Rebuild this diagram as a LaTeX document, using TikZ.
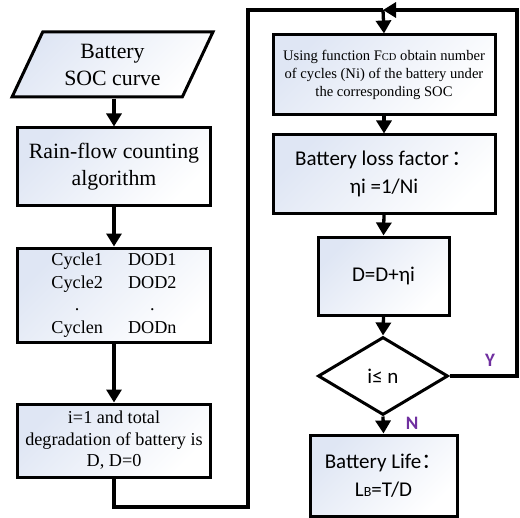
\documentclass[tikz,border=0pt]{standalone}
\usepackage{fontspec}
\setmainfont{Liberation Serif}
\newfontfamily\carl{Carlito}
\newfontfamily\cjkf{Noto Sans CJK SC}
\usetikzlibrary{shapes.geometric,arrows.meta}
\definecolor{boxtint}{HTML}{DFE6F4}
\definecolor{ypurple}{HTML}{7030A0}

\begin{document}
\begin{tikzpicture}[x=1bp,y=-1bp,
  box/.style={draw=black, line width=3bp, inner sep=0pt, align=center,
    left color=boxtint, right color=white, shading angle=45},
  serifbig/.style={font=\fontsize{21.8bp}{27bp}\selectfont},
  serifmid/.style={font=\fontsize{18.2bp}{21.5bp}\selectfont},
  serifsmall/.style={font=\fontsize{14.6bp}{18bp}\selectfont},
  sansbig/.style={font=\carl\fontsize{21bp}{28bp}\selectfont},
  flow/.style={line width=3.3bp},
  conn/.style={flow, -{Triangle[length=13bp,width=15bp]}},
  lab/.style={font=\carl\bfseries\fontsize{19bp}{20bp}\selectfont, text=ypurple}]

  \useasboundingbox (0,0) rectangle (520,518);

  % left column
  \node[box, serifbig, trapezium, trapezium left angle=63, trapezium right angle=117,
        trapezium stretches=true, minimum width=201bp, minimum height=65bp]
        (soc) at (112.5,64.5) {Battery\\SOC curve};
  \node[box, serifbig, minimum width=192bp, minimum height=77bp]
        (rf) at (114,166.5) {Rain-flow counting\\algorithm};
  \node[box, minimum width=192bp, minimum height=94bp]
        (cyc) at (114,295) {%
        \fontsize{18.2bp}{22.4bp}\selectfont
        \setlength{\tabcolsep}{12.5bp}\renewcommand{\arraystretch}{1}%
        \raisebox{-2bp}{\begin{tabular}{@{}cc@{}}
          Cycle1 & DOD1\\
          Cycle2 & DOD2\\
          . & .\\
          Cyclen & DODn
        \end{tabular}}};
  \node[box, serifmid, minimum width=192bp, minimum height=73bp]
        (init) at (114,440.5) {i=1 and total\\degradation of battery is\\D, D=0};

  % right column
  \node[box, serifsmall, minimum width=222bp, minimum height=80bp]
        (fcd) at (384,75) {Using function F{\fontsize{10.5bp}{12bp}\selectfont CD} obtain number\\of cycles (Ni) of the battery under\\the corresponding SOC};
  \node[box, sansbig, minimum width=222bp, minimum height=78bp]
        (loss) at (384,174) {Battery loss factor\hspace{3bp}{\cjkf ：}\\ ηi =1/Ni};
  \node[box, sansbig, minimum width=131bp, minimum height=78bp]
        (upd) at (383.5,276) {D=D+ηi};
  \node[draw=black, fill=white, line width=3bp, diamond, aspect=1.67, inner sep=0pt,
        minimum width=130bp, minimum height=78bp, sansbig]
        (dec) at (383,376) {i≤ n};
  \node[box, sansbig, minimum width=147bp, minimum height=81bp]
        (life) at (383.5,475.5) {Battery Life{\cjkf ：}\\ L{\fontsize{14bp}{14bp}\selectfont B}=T/D};

  % branch labels
  \node[lab] (ylab) at (490,360) {Y};
  \node[lab] (nlab) at (412,423) {N};

  % routing points
  \coordinate (merge) at (383,10);

  % main flow
  \draw[conn] (soc.south -| rf.north) -- (rf.north);
  \draw[conn] (rf.south) -- (cyc.north);
  \draw[conn] (cyc.south) -- (init.north);
  \draw[flow] (init.south) -- (114,507) -- (248,507) -- (248,10) -- (merge);
  \draw[conn] (merge) -- (fcd.north);
  \draw[conn] (fcd.south) -- (loss.north);
  \draw[conn] (loss.south) -- (upd.north);
  \draw[conn] (upd.south) -- (dec.north);
  \draw[conn] (dec.south) -- (life.north);
  \draw[conn] (dec.east) -- (517,376) -- (517,10) -- (merge);
\end{tikzpicture}
\end{document}
